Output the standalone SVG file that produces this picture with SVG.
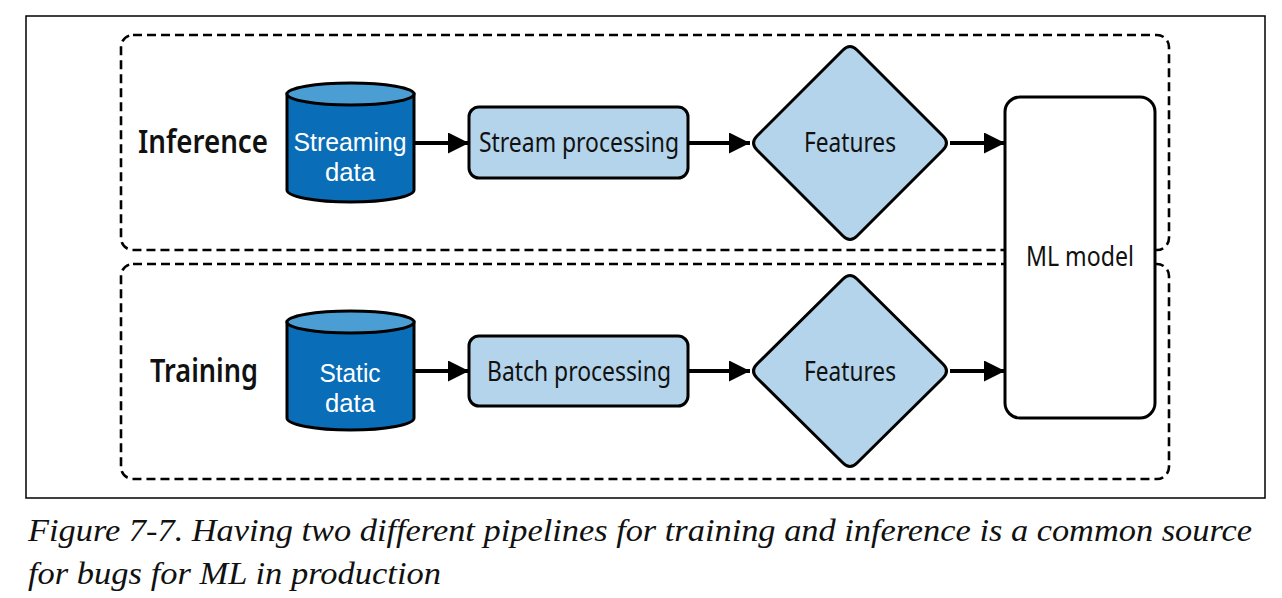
<svg xmlns="http://www.w3.org/2000/svg" width="1282" height="598" viewBox="0 0 1282 598">
<style>
.dash{fill:none;stroke:#000;stroke-width:2.6;stroke-dasharray:9 5}
.proc{fill:#b3d4ea;stroke:#000;stroke-width:3}
.body{fill:#0a6db7;stroke:#000;stroke-width:3}
.top{fill:#4b9ed4;stroke:#000;stroke-width:3}
.conn{stroke:#000;stroke-width:4;fill:none}
.t{font-family:"Noto Sans","Open Sans",sans-serif;fill:#111;text-anchor:middle}
.w{font-family:"Liberation Sans",Arial,sans-serif;fill:#fff;font-size:26px}
.lab{font-size:32px;font-weight:600}
.cap{font-family:"Liberation Serif","Times New Roman",serif;font-style:italic;font-size:31px;fill:#111}
</style>
<defs>
<marker id="ah" viewBox="0 0 20 20" refX="20" refY="10" markerWidth="21" markerHeight="21" markerUnits="userSpaceOnUse" orient="auto">
<path d="M0,0 L20,10 L0,20 Z" fill="#000"/>
</marker>
</defs>
<rect x="26" y="16" width="1239" height="482" fill="#fff" stroke="#000" stroke-width="1.5"/>
<g id="inference-group"><rect class="dash" x="121" y="35" width="1048" height="215" rx="12"/>
<text class="t lab" x="203" y="153" textLength="130" lengthAdjust="spacingAndGlyphs">Inference</text></g>
<g id="training-group"><rect class="dash" x="121" y="264" width="1048" height="215" rx="12"/>
<text class="t lab" x="204" y="382" textLength="108" lengthAdjust="spacingAndGlyphs">Training</text></g>
<g id="connectors">
<line class="conn" x1="414" y1="143" x2="469" y2="143" marker-end="url(#ah)"/>
<line class="conn" x1="688" y1="143" x2="750" y2="143" marker-end="url(#ah)"/>
<line class="conn" x1="950" y1="143" x2="1005" y2="143" marker-end="url(#ah)"/>
<line class="conn" x1="414" y1="371" x2="469" y2="371" marker-end="url(#ah)"/>
<line class="conn" x1="688" y1="371" x2="750" y2="371" marker-end="url(#ah)"/>
<line class="conn" x1="950" y1="371" x2="1005" y2="371" marker-end="url(#ah)"/>
</g>
<g id="streaming-data">
<path class="body" d="M287,94 L287,190 A63.5,12 0 0 0 414,190 L414,94 Z"/>
<ellipse class="top" cx="350.5" cy="94" rx="63.5" ry="11"/>
<text class="t w" x="350" y="151" textLength="113" lengthAdjust="spacingAndGlyphs">Streaming</text>
<text class="t w" x="350" y="181" textLength="50" lengthAdjust="spacingAndGlyphs">data</text>
</g>
<g id="stream-processing">
<rect class="proc" x="469" y="107" width="219" height="71" rx="10"/>
<text class="t" x="579" y="152" font-size="28" textLength="200" lengthAdjust="spacingAndGlyphs">Stream processing</text>
</g>
<g id="features-inference">
<path class="proc" d="M843,50 Q850,43 857,50 L943,136 Q950,143 943,150 L857,236 Q850,243 843,236 L757,150 Q750,143 757,136 Z" stroke-linejoin="round"/>
<text class="t" x="850" y="152" font-size="28" textLength="92" lengthAdjust="spacingAndGlyphs">Features</text>
</g>
<g id="static-data">
<path class="body" d="M287,322 L287,418 A63.5,12 0 0 0 414,418 L414,322 Z"/>
<ellipse class="top" cx="350.5" cy="322" rx="63.5" ry="11"/>
<text class="t w" x="350" y="382" textLength="61" lengthAdjust="spacingAndGlyphs">Static</text>
<text class="t w" x="350" y="412" textLength="50" lengthAdjust="spacingAndGlyphs">data</text>
</g>
<g id="batch-processing">
<rect class="proc" x="469" y="336" width="219" height="70" rx="10"/>
<text class="t" x="579" y="381" font-size="28" textLength="184" lengthAdjust="spacingAndGlyphs">Batch processing</text>
</g>
<g id="features-training">
<path class="proc" d="M843,279 Q850,272 857,279 L943,364 Q950,371 943,378 L857,463 Q850,470 843,463 L757,378 Q750,371 757,364 Z" stroke-linejoin="round"/>
<text class="t" x="850" y="381" font-size="28" textLength="92" lengthAdjust="spacingAndGlyphs">Features</text>
</g>
<g id="ml-model">
<rect x="1005" y="97" width="150" height="321" rx="15" fill="#fff" stroke="#000" stroke-width="3"/>
<text class="t" x="1080" y="266" font-size="27" textLength="108" lengthAdjust="spacingAndGlyphs">ML model</text>
</g>
<g id="caption">
<text class="cap" x="28" y="541" textLength="1224" lengthAdjust="spacingAndGlyphs">Figure 7-7. Having two different pipelines for training and inference is a common source</text>
<text class="cap" x="28" y="584" textLength="413" lengthAdjust="spacingAndGlyphs">for bugs for ML in production</text>
</g>
</svg>
